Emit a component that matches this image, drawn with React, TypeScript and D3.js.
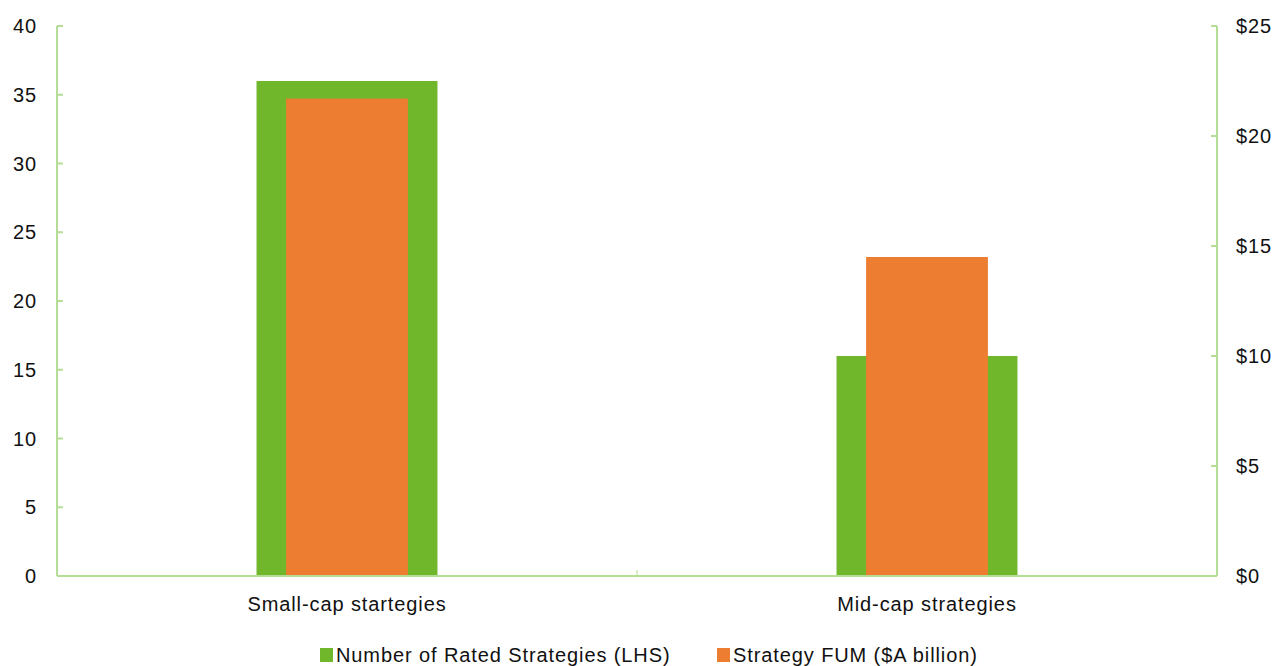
import React from "react";
import * as d3 from "d3";

const categories = ["Small-cap startegies", "Mid-cap strategies"];
const ratedStrategies = [36, 16];
const strategyFum = [21.7, 14.5];
const leftTicks = [0, 5, 10, 15, 20, 25, 30, 35, 40];
const rightTicks = [0, 5, 10, 15, 20, 25];
const seriesNames = ["Number of Rated Strategies (LHS)", "Strategy FUM ($A billion)"];

const W = 1276;
const H = 666;
const left = 57;
const right = 1217;
const top = 26;
const bottom = 576;
const GREEN = "#70b72b";
const ORANGE = "#ed7d31";
const AXIS = "#b5dd95";
const FONT = "'Liberation Sans', Arial, Helvetica, sans-serif";
const TEXT = { fontSize: 20, letterSpacing: 0.9, fill: "#111" };

export default function App() {
  const x = d3.scaleBand<string>().domain(categories).range([left, right]);
  const yL = d3.scaleLinear().domain([0, 40]).range([bottom, top]);
  const yR = d3.scaleLinear().domain([0, 25]).range([bottom, top]);
  const greenW = x.bandwidth() * 0.312;
  const orangeW = x.bandwidth() * 0.21;

  return (
    <svg width={W} height={H} style={{ position: "absolute", left: 0, top: 0 }} fontFamily={FONT}>
      {categories.map((c, i) => {
        const cx = x(c)! + x.bandwidth() / 2;
        return (
          <g key={c}>
            <rect x={cx - greenW / 2} y={yL(ratedStrategies[i])} width={greenW} height={bottom - yL(ratedStrategies[i])} fill={GREEN} />
            <rect x={cx - orangeW / 2} y={yR(strategyFum[i])} width={orangeW} height={bottom - yR(strategyFum[i])} fill={ORANGE} />
            <text x={cx} y={611} textAnchor="middle" {...TEXT}>{c}</text>
          </g>
        );
      })}
      {/* axes */}
      <line x1={left} x2={left} y1={top} y2={bottom} stroke={AXIS} strokeWidth={2} />
      <line x1={right} x2={right} y1={top} y2={bottom} stroke={AXIS} strokeWidth={2} />
      <line x1={left} x2={right} y1={bottom} y2={bottom} stroke={AXIS} strokeWidth={2} />
      <line x1={(left + right) / 2} x2={(left + right) / 2} y1={bottom - 6} y2={bottom} stroke={AXIS} strokeWidth={1} />
      {leftTicks.map((t) => (
        <g key={"l" + t}>
          <line x1={left} x2={left + 6} y1={yL(t)} y2={yL(t)} stroke={AXIS} strokeWidth={2} />
          <text x={37} y={yL(t) + 7} textAnchor="end" {...TEXT}>{t}</text>
        </g>
      ))}
      {rightTicks.map((t) => (
        <g key={"r" + t}>
          <line x1={right - 6} x2={right} y1={yR(t)} y2={yR(t)} stroke={AXIS} strokeWidth={2} />
          <text x={1236} y={yR(t) + 7} textAnchor="start" {...TEXT}>{"$" + t}</text>
        </g>
      ))}
      {/* legend */}
      <rect x={320} y={648} width={13} height={14} fill={GREEN} />
      <text x={336} y={662} {...TEXT}>{seriesNames[0]}</text>
      <rect x={717} y={648} width={13} height={14} fill={ORANGE} />
      <text x={733} y={662} {...TEXT}>{seriesNames[1]}</text>
    </svg>
  );
}
